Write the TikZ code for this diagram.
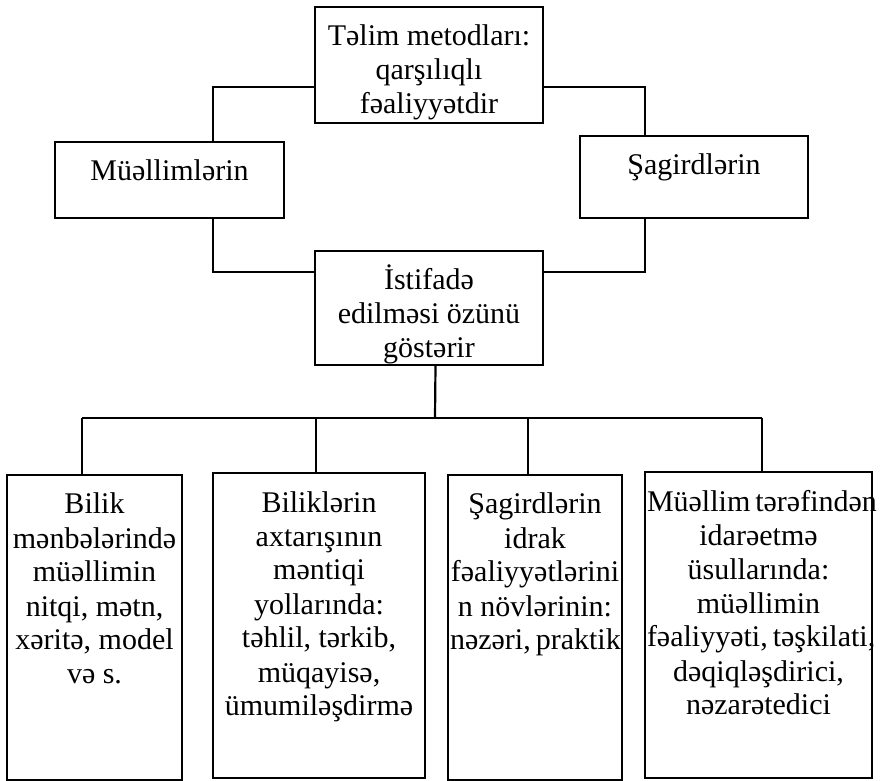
\documentclass[tikz,border=0pt]{standalone}
\usepackage{fontspec}
\setmainfont{Liberation Serif}
\usetikzlibrary{calc}
\tikzset{blk/.style={draw, line width=1.1pt, inner xsep=1pt, inner ysep=0pt, font=\fontsize{15pt}{17pt}\selectfont},
	con/.style={line width=1.1pt}}
\newcommand{\blktext}[3]{\parbox[c][#2][t]{#1}{\centering\hyphenpenalty=10000\rule{0pt}{19.5pt}#3}}
\begin{document}
\begin{tikzpicture}[x=0.5pt,y=-0.5pt]
		\useasboundingbox (0,0) rectangle (880,781);
		% Upper part
		\node[blk] (metod) at (429,65) {\blktext{112pt}{58pt}{Təlim metodları:\\qarşılıqlı\\fəaliyyətdir}};
		\node[blk] (muell) at (169.5,180) {\blktext{112.5pt}{38pt}{Müəllimlərin}};
		\node[blk] (shag) at (694,177) {\blktext{112pt}{41pt}{Şagirdlərin}};
		\node[blk] (istif) at (429,308) {\blktext{112pt}{57pt}{İstifadə\\edilməsi özünü\\göstərir}};
		\draw[con] ($(metod.west)+(0,22)$) -| ($(muell.north)+(43.5,0)$);
		\draw[con] ($(metod.east)+(0,22)$) -| ($(shag.north)+(-49,0)$);
		\draw[con] ($(muell.south)+(43.5,0)$) |- ($(istif.west)+(0,-36)$);
		\draw[con] ($(shag.south)+(-49,0)$) |- ($(istif.east)+(0,-36)$);
		% Lower part
		\node[blk] (b1) at (94.5,627.5) {\blktext{85.5pt}{152.5pt}{Bilik\\mənbələrində\\müəllimin\\nitqi, mətn,\\xəritə,~model\\və s.}};
		\node[blk] (b2) at (319,625.5) {\blktext{104pt}{152.5pt}{Biliklərin\\axtarışının\\məntiqi\\yollarında:\\təhlil,~tərkib,\\müqayisə,\\ümumiləşdirmə}};
		\node[blk] (b3) at (535,627.5) {\blktext{85pt}{152.5pt}{Şagirdlərin\\idrak\\fəaliyyətlərini\\n~növlərinin:\\nəzəri,~praktik}};
		\node[blk] (b4) at (758.5,625) {\blktext{111.5pt}{153pt}{Müəllim~tərəfindən\\idarəetmə\\üsullarında:\\müəllimin\\fəaliyyəti,~təşkilati,\\dəqiqləşdirici,\\nəzarətedici}};
		\coordinate (bus) at (435,418);
		\coordinate (d1) at ($(b1.north)+(-12.5,0)$);
		\coordinate (d2) at ($(b2.north)+(-3,0)$);
		\coordinate (d3) at ($(b3.north)+(-7,0)$);
		\coordinate (d4) at ($(b4.north)+(3.5,0)$);
		\draw[con] ($(istif.south)+(6.5,0)$) -- (bus);
		\draw[con] (bus -| d1) -- (bus -| d4);
		\foreach \i in {1,...,4}
			\draw[con] (bus -| d\i) -- (d\i);
\end{tikzpicture}
\end{document}
